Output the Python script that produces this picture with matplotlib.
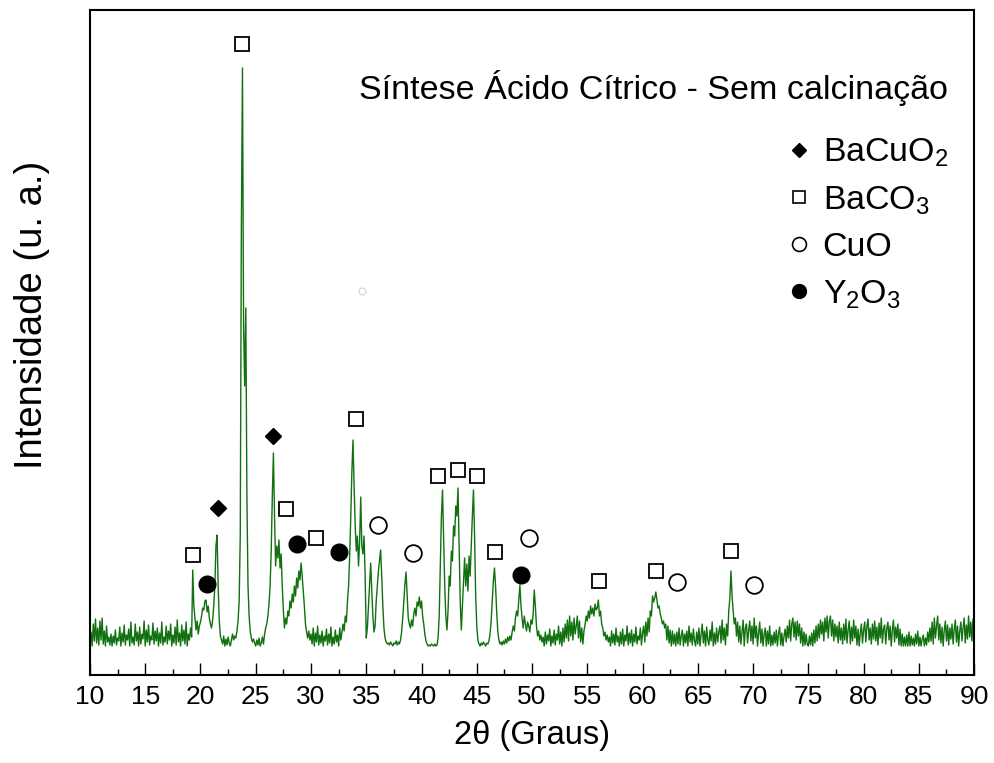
import numpy as np
import matplotlib
matplotlib.use("Agg")
import matplotlib.pyplot as plt
from matplotlib.lines import Line2D

plt.rcParams["font.family"] = ["Liberation Sans", "DejaVu Sans"]
plt.rcParams["mathtext.fontset"] = "custom"
plt.rcParams["mathtext.rm"] = "Liberation Sans"
plt.rcParams["mathtext.it"] = "Liberation Sans:italic"

# intensity, one value every 0.1 degree, blocks of 10 degrees
i_10_20 = [2, 14, 0, 22, 5, 27, 3, 18, 1, 25,
           6, 28, 2, 15, 0, 20, 4, 9, 1, 12,
           0, 10, 3, 16, 1, 8, 5, 19, 0, 13,
           4, 21, 1, 11, 6, 17, 0, 24, 3, 9,
           1, 22, 5, 14, 0, 19, 2, 12, 7, 25,
           0, 16, 4, 21, 1, 10, 6, 23, 2, 15,
           5, 18, 0, 13, 3, 24, 1, 9, 4, 20,
           2, 15, 6, 22, 0, 11, 3, 19, 1, 26,
           4, 13, 0, 21, 5, 16, 2, 24, 0, 12,
           6, 18, 9, 76, 40, 28, 16, 25, 12, 20]
i_20_30 = [24, 30, 38, 36, 45, 46, 34, 40, 28, 22,
           18, 26, 40, 60, 100, 111, 60, 25, 10, 6,
           2, 10, 0, 7, 1, 9, 3, 0, 6, 12,
           6, 10, 8, 15, 25, 45, 110, 420, 578, 320,
           260, 338, 150, 60, 30, 15, 8, 4, 7, 3,
           0, 6, 1, 8, 0, 3, 9, 2, 12, 18,
           22, 30, 42, 60, 95, 150, 193, 130, 80, 100,
           88, 106, 78, 92, 60, 35, 18, 28, 22, 35,
           30, 45, 38, 52, 44, 60, 50, 68, 58, 75,
           66, 83, 70, 55, 40, 22, 14, 8, 15, 6]
i_30_40 = [12, 2, 18, 0, 13, 4, 20, 1, 11, 3,
           15, 0, 10, 5, 17, 1, 12, 3, 19, 0,
           9, 2, 16, 4, 11, 0, 18, 6, 14, 22,
           15, 30, 24, 45, 60, 90, 130, 175, 206, 160,
           120, 95, 110, 80, 105, 149, 100, 92, 110, 70,
           8, 18, 40, 62, 83, 55, 30, 14, 20, 45,
           60, 75, 85, 96, 70, 40, 18, 8, 4, 2,
           3, 1, 4, 2, 0, 3, 2, 5, 1, 4,
           2, 6, 14, 28, 45, 62, 74, 50, 28, 22,
           18, 26, 20, 32, 38, 30, 44, 40, 49, 38]
i_40_50 = [45, 30, 22, 12, 5, 2, 0, 1, 0, 2,
           1, 0, 2, 0, 1, 8, 30, 80, 130, 156,
           110, 60, 30, 16, 35, 70, 60, 95, 85, 120,
           110, 140, 130, 158, 100, 45, 16, 40, 65, 88,
           60, 82, 55, 90, 70, 100, 130, 156, 110, 50,
           20, 6, 2, 0, 3, 1, 4, 2, 0, 3,
           2, 5, 12, 25, 45, 65, 78, 60, 35, 15,
           6, 2, 4, 1, 5, 2, 7, 3, 9, 5,
           10, 6, 14, 20, 15, 28, 35, 30, 45, 61,
           40, 28, 18, 30, 22, 15, 24, 20, 14, 26]
i_50_60 = [22, 32, 56, 40, 20, 10, 15, 6, 11, 4,
           9, 0, 14, 2, 11, 5, 17, 0, 10, 3,
           16, 1, 12, 6, 20, 2, 14, 0, 18, 4,
           22, 8, 26, 5, 30, 10, 24, 6, 28, 12,
           20, 30, 8, 25, 4, 18, 2, 15, 22, 30,
           25, 35, 28, 40, 32, 38, 30, 42, 36, 38,
           46, 30, 35, 22, 18, 10, 14, 6, 11, 4,
           9, 0, 15, 3, 12, 1, 18, 4, 10, 0,
           14, 2, 17, 0, 11, 5, 20, 1, 13, 3,
           16, 0, 12, 4, 19, 2, 10, 6, 18, 1]
i_60_70 = [13, 20, 4, 24, 10, 28, 14, 35, 30, 50,
           44, 48, 54, 46, 38, 40, 32, 28, 22, 25,
           18, 22, 6, 20, 3, 16, 0, 15, 2, 12,
           0, 14, 2, 18, 1, 10, 16, 0, 12, 3,
           15, 0, 20, 4, 13, 1, 17, 5, 0, 14,
           2, 18, 0, 12, 22, 3, 15, 0, 19, 6,
           1, 16, 5, 24, 0, 13, 2, 18, 4, 14,
           20, 3, 26, 6, 18, 1, 22, 10, 35, 48,
           75, 50, 35, 22, 28, 10, 24, 4, 20, 2,
           14, 26, 0, 18, 22, 3, 16, 25, 5, 20]
i_70_80 = [2, 28, 8, 20, 0, 13, 24, 3, 17, 0,
           12, 18, 0, 15, 2, 20, 0, 11, 1, 14,
           3, 16, 0, 12, 19, 1, 13, 0, 10, 17,
           4, 20, 8, 26, 5, 22, 28, 9, 24, 6,
           25, 10, 22, 3, 18, 0, 14, 1, 12, 2,
           0, 10, 1, 13, 0, 16, 3, 20, 5, 22,
           8, 26, 12, 24, 5, 28, 14, 30, 8, 25,
           30, 10, 26, 5, 22, 9, 20, 3, 24, 6,
           18, 2, 22, 6, 27, 3, 16, 25, 2, 19,
           5, 26, 8, 20, 1, 17, 0, 13, 22, 3]
i_80_90 = [16, 24, 4, 20, 27, 6, 18, 2, 22, 7,
           25, 5, 19, 1, 23, 8, 28, 3, 17, 21,
           2, 18, 24, 6, 20, 0, 16, 26, 4, 19,
           8, 22, 1, 17, 0, 12, 0, 9, 0, 11,
           0, 14, 0, 10, 1, 8, 0, 12, 2, 15,
           0, 9, 0, 7, 11, 0, 8, 1, 14, 4,
           18, 5, 24, 2, 28, 8, 20, 30, 6, 22,
           3, 19, 0, 16, 25, 5, 21, 1, 18, 7,
           22, 2, 17, 26, 4, 20, 0, 15, 24, 5,
           18, 28, 3, 21, 7, 30, 9, 24, 5, 27,
           20]

intensity = np.array(i_10_20 + i_20_30 + i_30_40 + i_40_50 + i_50_60
                     + i_60_70 + i_70_80 + i_80_90)
two_theta = np.round(np.linspace(10, 90, len(intensity)), 1)

# phase identification marks
bacuo2_x = [21.58, 26.56]
bacuo2_y = [138, 210]
baco3_x = [19.32, 23.76, 27.74, 30.45, 34.07, 41.49, 43.30, 45.02, 46.65, 56.06, 61.22, 68.01]
baco3_y = [91, 602, 137, 108, 227, 170, 176, 170, 94, 65, 75, 95]
cuo_x = [36.06, 39.23, 49.73, 63.12, 70.09]
cuo_y = [121, 93, 108, 64, 61]
y2o3_x = [20.59, 28.73, 32.53, 49.00]
y2o3_y = [62, 102, 94, 71]

fig = plt.figure(figsize=(9.94, 7.63), dpi=100)
ax = fig.add_axes([0.0905, 0.1153, 0.8895, 0.8717])

ax.plot(two_theta, intensity, color="#11700f", lw=1.0)

ax.plot(bacuo2_x, bacuo2_y, "D", color="black", ms=8, ls="none")
ax.plot(baco3_x, baco3_y, "s", mfc="white", mec="black", mew=1.3, ms=10, ls="none")
ax.plot(cuo_x, cuo_y, "o", mfc="white", mec="black", mew=1.3, ms=12, ls="none")
ax.plot(y2o3_x, y2o3_y, "o", color="black", ms=12, ls="none")
# faint stray symbol in the original
ax.plot([34.6], [355], "o", mfc="none", mec="#dcdcdc", mew=1, ms=5)

ax.set_xlim(10, 90)
ax.set_ylim(-29, 636)
ax.set_xticks(range(10, 91, 5))
ax.set_xticks(np.arange(12.5, 90, 5), minor=True)
ax.set_yticks([])
ax.tick_params(axis="x", which="major", direction="in", length=9, width=1,
               labelsize=19, pad=7)
ax.tick_params(axis="x", which="minor", direction="in", length=4.5, width=1)
for s in ax.spines.values():
    s.set_linewidth(1.5)

ax.set_xlabel("2θ (Graus)", fontsize=23.5, labelpad=8)
ax.set_ylabel("Intensidade (u. a.)", fontsize=27.5)
ax.yaxis.set_label_coords(-0.045, 0.541)

ax.text(0.971, 0.883, "Síntese Ácido Cítrico - Sem calcinação", transform=ax.transAxes,
        ha="right", va="center", fontsize=24.5)

handles = [
    Line2D([], [], marker="D", color="black", ls="none", ms=7),
    Line2D([], [], marker="s", mfc="white", mec="black", mew=1.2, ls="none", ms=9),
    Line2D([], [], marker="o", mfc="white", mec="black", mew=1.2, ls="none", ms=10),
    Line2D([], [], marker="o", color="black", ls="none", ms=10),
]
labels = ["BaCuO$_2$", "BaCO$_3$", "CuO", "Y$_2$O$_3$"]
ax.legend(handles, labels, loc="upper left", bbox_to_anchor=(0.767, 0.835),
          frameon=False, fontsize=24.4, handlelength=0.8, handletextpad=0.31,
          labelspacing=0.45, borderpad=0)

fig.savefig("out.png", dpi=100)
